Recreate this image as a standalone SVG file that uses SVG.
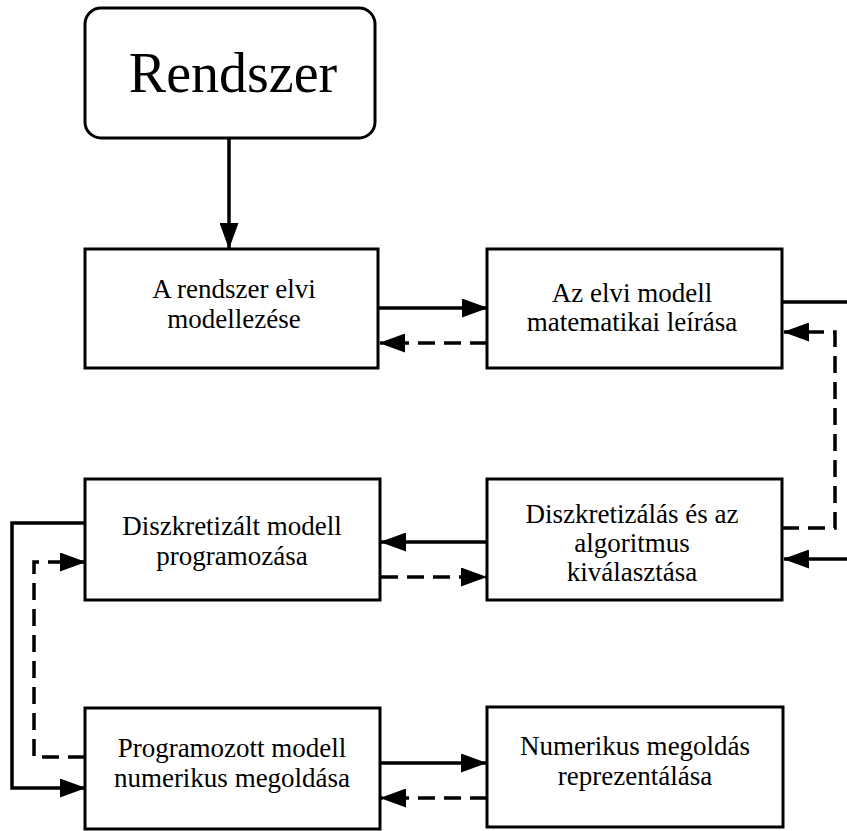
<svg xmlns="http://www.w3.org/2000/svg" width="847" height="831" viewBox="0 0 847 831">
<style>
.box{fill:#fff;stroke:#000;stroke-width:3}
text{font-family:'Liberation Serif','Times New Roman',serif;fill:#000;text-anchor:middle}
.t{font-size:27px}
.big{font-size:56px}
.c{fill:none;stroke:#000;stroke-width:3.5}
.d{stroke-dasharray:17 9}
</style>
<defs>
<marker id="ah" markerUnits="userSpaceOnUse" markerWidth="26" markerHeight="19" refX="25" refY="9.5" orient="auto">
<path d="M0,0 L26,9.5 L0,19 z" fill="#000"/>
</marker>
</defs>
<rect width="847" height="831" fill="#fff"/>
<g id="connectors">
<path class="c" d="M229,138 V248" marker-end="url(#ah)"/>
<path class="c" d="M378,308 H487" marker-end="url(#ah)"/>
<path class="c d" d="M487,343 H380" marker-end="url(#ah)"/>
<path class="c" d="M782,302 H847"/>
<path class="c d" d="M782,528 H835 V332 H784" marker-end="url(#ah)"/>
<path class="c" d="M847,559 H784" marker-end="url(#ah)"/>
<path class="c" d="M487,542 H381" marker-end="url(#ah)"/>
<path class="c d" d="M381,577 H486" marker-end="url(#ah)"/>
<path class="c" d="M85,523 H12 V788 H85" marker-end="url(#ah)"/>
<path class="c d" d="M85,757 H34 V562 H85" marker-end="url(#ah)"/>
<path class="c" d="M381,763 H486" marker-end="url(#ah)"/>
<path class="c d" d="M487,798 H381" marker-end="url(#ah)"/>
</g>
<g id="rendszer">
<rect class="box" x="85" y="8" width="290" height="130" rx="16"/>
<text class="big" x="233" y="92" font-family="Liberation Serif, serif">Rendszer</text>
</g>
<g id="elvi-modellezes">
<rect class="box" x="85" y="249" width="293" height="119"/>
<text class="t" x="234" y="298" font-family="Liberation Serif, serif">A rendszer elvi</text>
<text class="t" x="234" y="328" font-family="Liberation Serif, serif">modellezése</text>
</g>
<g id="matematikai-leiras">
<rect class="box" x="487" y="249" width="295" height="119"/>
<text class="t" x="632" y="302" font-family="Liberation Serif, serif">Az elvi modell</text>
<text class="t" x="632" y="331" font-family="Liberation Serif, serif">matematikai leírása</text>
</g>
<g id="diszkretizalas">
<rect class="box" x="487" y="479" width="295" height="121"/>
<text class="t" x="632" y="523" font-family="Liberation Serif, serif">Diszkretizálás és az</text>
<text class="t" x="632" y="552" font-family="Liberation Serif, serif">algoritmus</text>
<text class="t" x="632" y="581" font-family="Liberation Serif, serif">kiválasztása</text>
</g>
<g id="programozas">
<rect class="box" x="85" y="479" width="295" height="121"/>
<text class="t" x="232" y="535" font-family="Liberation Serif, serif">Diszkretizált modell</text>
<text class="t" x="232" y="565" font-family="Liberation Serif, serif">programozása</text>
</g>
<g id="numerikus-megoldas">
<rect class="box" x="85" y="708" width="295" height="121"/>
<text class="t" x="232" y="757" font-family="Liberation Serif, serif">Programozott modell</text>
<text class="t" x="232" y="787" font-family="Liberation Serif, serif">numerikus megoldása</text>
</g>
<g id="reprezentalas">
<rect class="box" x="487" y="707" width="296" height="120"/>
<text class="t" x="635" y="755" font-family="Liberation Serif, serif">Numerikus megoldás</text>
<text class="t" x="635" y="785" font-family="Liberation Serif, serif">reprezentálása</text>
</g>
</svg>
